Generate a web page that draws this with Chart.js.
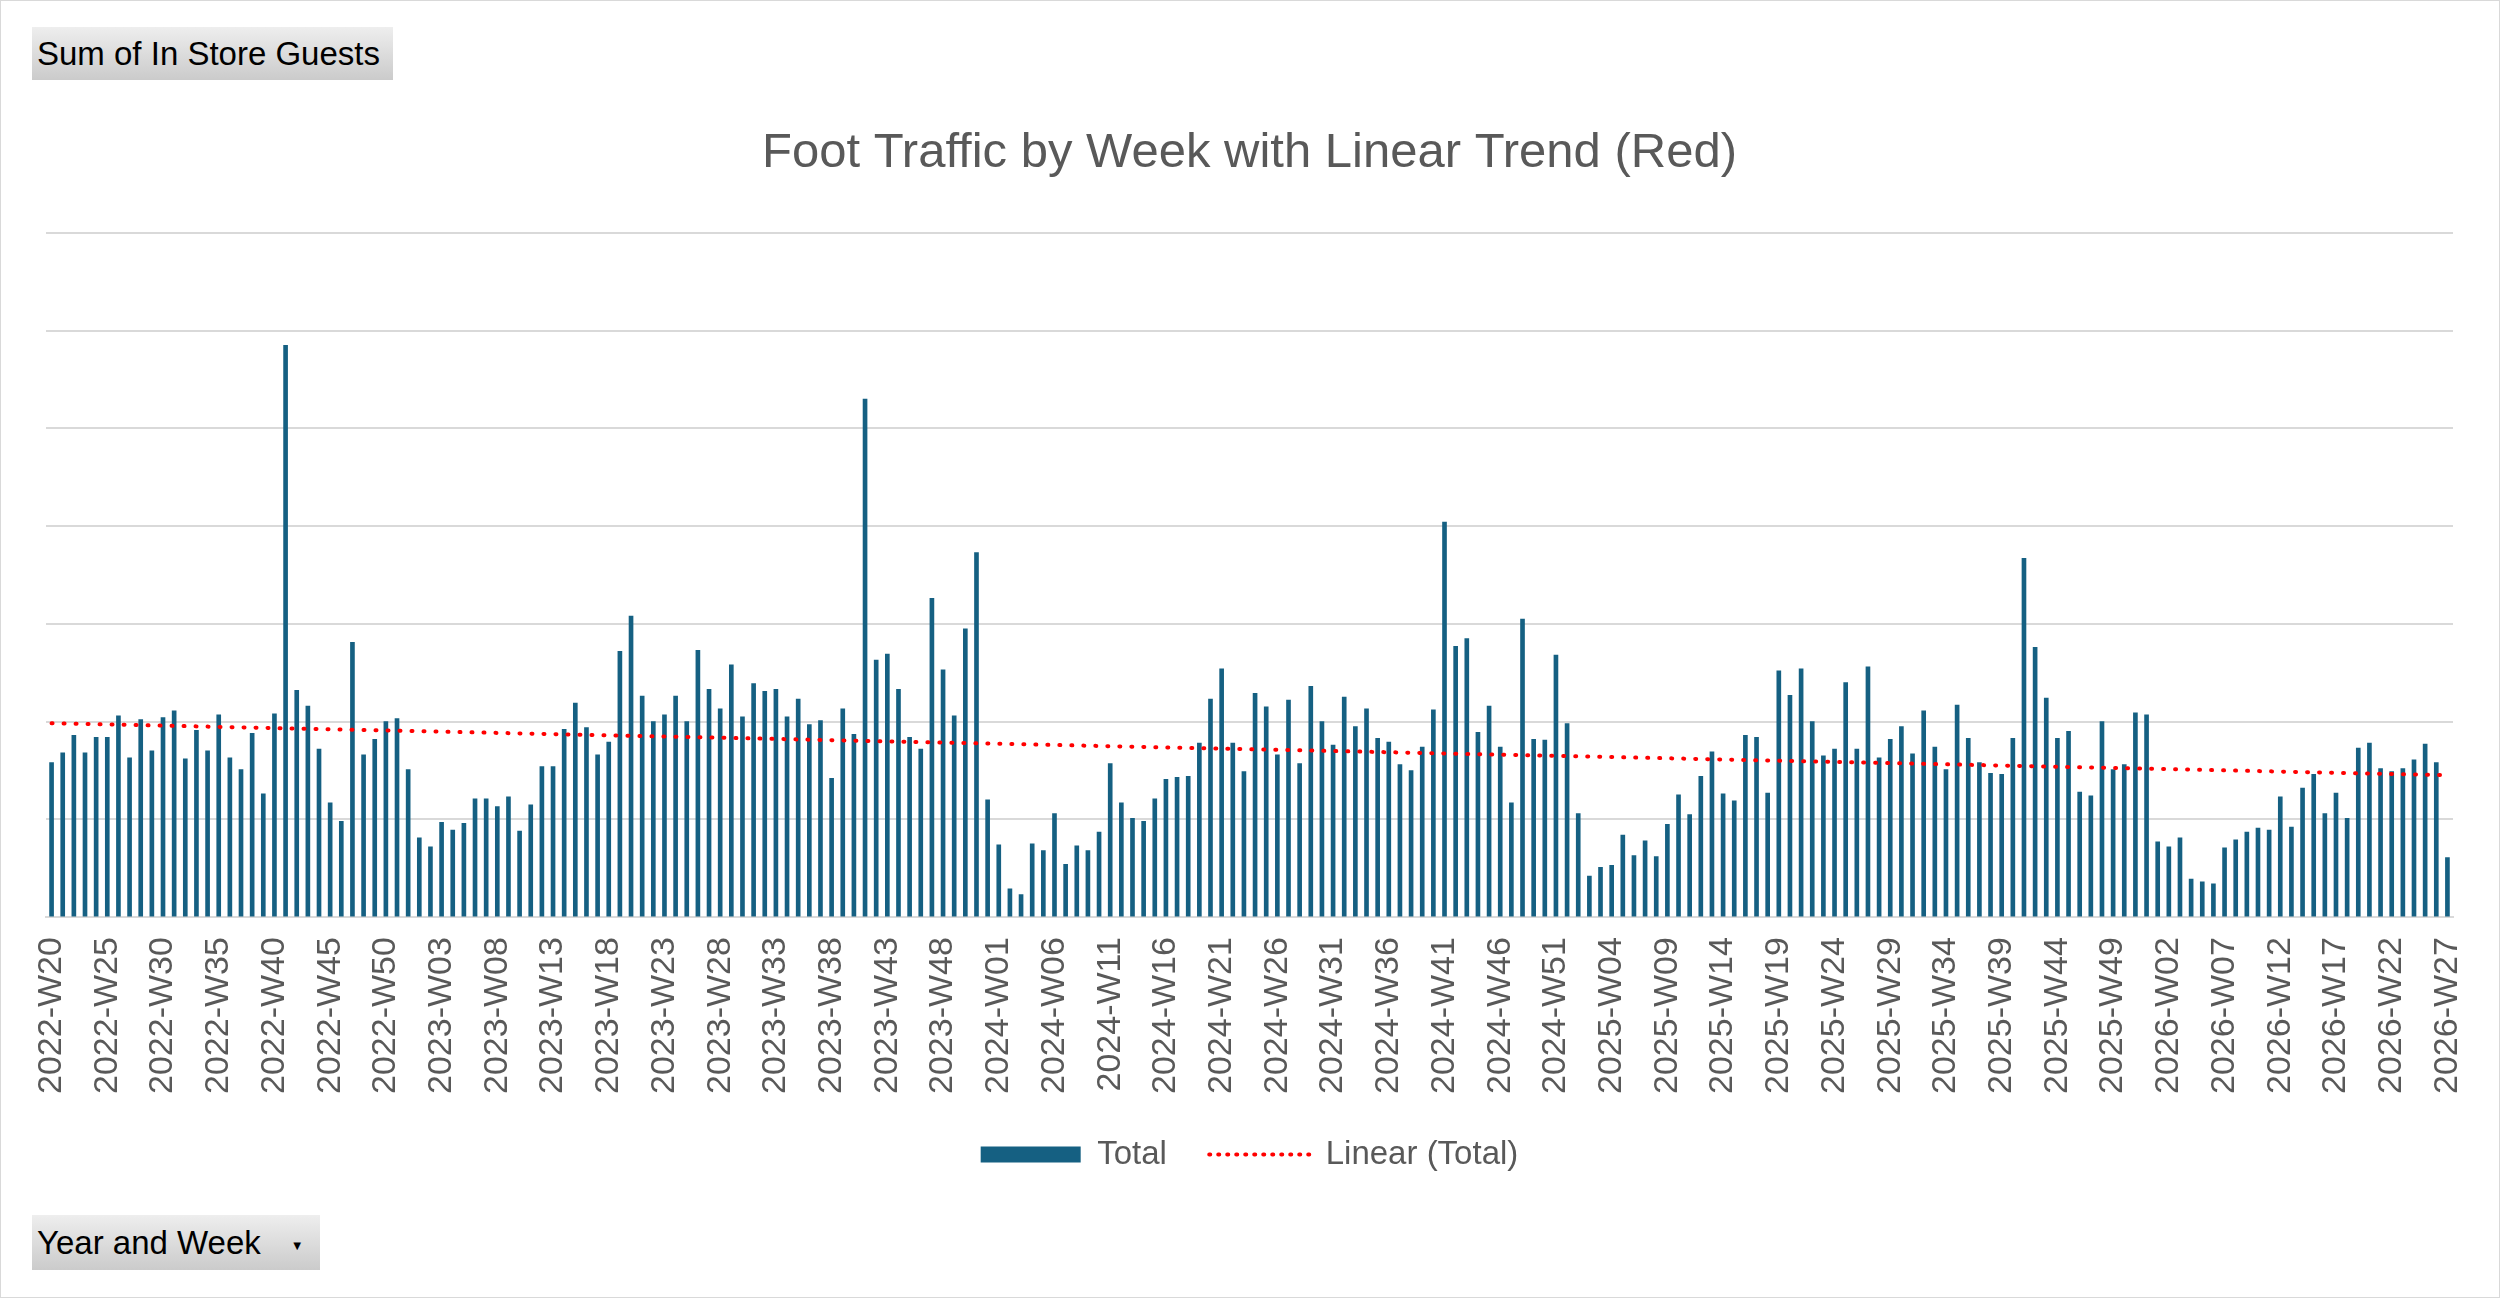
<!DOCTYPE html>
<html>
<head>
<meta charset="utf-8">
<script src="https://cdn.jsdelivr.net/npm/chart.js@4"></script>
<style>
  html, body { margin: 0; padding: 0; background: #fff; }
  body { width: 2500px; height: 1298px; position: relative; overflow: hidden; font-family: "Liberation Sans", Arial, sans-serif; }
  #frame { position: absolute; left: 0; top: 0; width: 2498px; height: 1296px; border: 1px solid #d9d9d9; pointer-events: none; }
  #wrap { position: absolute; left: 0; top: 0; }
  .pivot-btn { position: absolute; box-sizing: border-box; padding-left: 5px; background: linear-gradient(#eeeeee, #cbcbcb); color: #000; font-size: 33px; white-space: nowrap; }
  .pivot-btn .arrow { font-size: 13px; vertical-align: middle; margin-left: 30px; }
</style>
</head>
<body>
<div id="wrap"><canvas id="footTraffic" width="2500" height="1298"></canvas></div>
<div id="frame"></div>
<div class="pivot-btn" style="left:32px;top:27px;width:361px;height:53px;line-height:53px;">Sum of In Store Guests</div>
<div class="pivot-btn" style="left:32px;top:1215px;width:288px;height:55px;line-height:55px;">Year and Week<span class="arrow">&#9660;</span></div>
<script>
// ISO weeks shown: [year, first week, last week]
const yearWeeks = [[2022, 20, 52], [2023, 1, 52], [2024, 1, 52], [2025, 1, 52], [2026, 1, 27]]

// Sum of In Store Guests per week
const guests2022 = [158, 168, 186, 168, 184, 184, 206, 163, 202, 170, 204, 211, 162, 191, 170, 207, 163, 151,
    188, 126, 208, 585, 232, 216, 172, 117, 98, 281, 166, 182, 200, 203, 151]
const guests2023 = [81, 72, 97,
    89, 96, 121, 121, 113, 123, 88, 115, 154, 154, 192, 219, 194, 166, 179, 272, 308, 226,
    200, 207, 226, 200, 273, 233, 213, 258, 205, 239, 231, 233, 205, 223, 197, 201, 142, 213,
    187, 530, 263, 269, 233, 184, 172, 326, 253, 206, 295, 373, 120]
const guests2024 = [74, 29, 23, 75, 68,
    106, 54, 73, 68, 87, 157, 117, 101, 98, 121, 141, 143, 144, 178, 223, 254, 178, 149,
    229, 215, 166, 222, 157, 236, 200, 176, 225, 195, 213, 183, 179, 156, 150, 174, 212, 404, 277,
    285, 189, 216, 174, 117, 305, 182, 181, 268, 198]
const guests2025 = [106, 42, 51, 53, 84, 63, 78, 62,
    95, 125, 105, 144, 169, 126, 119, 186, 184, 127, 252, 227, 254, 200, 165, 172, 240, 172,
    256, 163, 182, 195, 167, 211, 174, 151, 217, 183, 158, 147, 146, 183, 367, 276, 224, 183,
    190, 128, 124, 200, 151, 156, 209, 207]
const guests2026 = [77, 72, 81, 39, 36, 34, 71, 79, 87, 91,
    89, 123, 92, 132, 146, 106, 127, 101, 173, 178, 152, 149, 152, 161, 177, 158, 61]

const weekLabels = []
yearWeeks.forEach(([year, first, last]) => {
    for (let w = first; w <= last; w++) {
        weekLabels.push(year + "-W" + String(w).padStart(2, "0"))
    }
})
const guests = [...guests2022, ...guests2023, ...guests2024, ...guests2025, ...guests2026]

// least squares line, like Excel's "Linear" trendline
let sx = 0, sy = 0, sxy = 0, sxx = 0
guests.forEach((v, i) => { sx += i; sy += v; sxy += i * v; sxx += i * i })
const n = guests.length
const slope = (n * sxy - sx * sy) / (n * sxx - sx * sx)
const intercept = (sy - slope * sx) / n
const trend = guests.map((v, i) => intercept + slope * i)

const grey = "#595959"
const font = "'Liberation Sans', Arial, sans-serif"

new Chart(document.getElementById("footTraffic"), {
    data: {
        labels: weekLabels,
        datasets: [
            {
                type: "bar",
                label: "Total",
                data: guests,
                backgroundColor: "#156082",
                barThickness: 4,
                order: 2
            },
            {
                type: "line",
                label: "Linear (Total)",
                data: trend,
                borderColor: "#ff0000",
                borderWidth: 4,
                borderDash: [1, 11],
                borderCapStyle: "round",
                pointRadius: 0,
                order: 1
            }
        ]
    },
    options: {
        responsive: false,
        animation: false,
        layout: { padding: { left: 46, right: 47, top: 0, bottom: 117 } },
        plugins: {
            title: {
                display: true,
                text: "Foot Traffic by Week with Linear Trend (Red)",
                color: grey,
                font: { family: font, size: 49, weight: "normal" },
                padding: { top: 124, bottom: 50 }
            },
            legend: {
                position: "bottom",
                labels: {
                    color: grey,
                    font: { family: font, size: 33 },
                    usePointStyle: true,
                    pointStyleWidth: 100,
                    boxHeight: 16,
                    padding: 24,
                    generateLabels: chart => Chart.defaults.plugins.legend.labels.generateLabels(chart)
                        .sort((a, b) => a.datasetIndex - b.datasetIndex)
                        .map(item => item.datasetIndex === 0
                            ? { ...item, pointStyle: "rect", text: item.text + "\u00a0\u00a0" }
                            : { ...item, pointStyle: "line", strokeStyle: "#ff0000", lineWidth: 4, lineDash: [1, 8], lineCap: "round" })
                }
            },
            tooltip: { enabled: false }
        },
        scales: {
            x: {
                grid: { display: false, drawTicks: false },
                border: { color: "#d9d9d9", width: 2 },
                afterFit: scale => { scale.paddingLeft = 0; scale.paddingRight = 0 },
                ticks: {
                    autoSkip: false,
                    minRotation: 90,
                    maxRotation: 90,
                    padding: 20,
                    color: grey,
                    font: { family: font, size: 34 },
                    callback: (v, i) => i % 5 === 0 ? weekLabels[i] : ""
                }
            },
            y: {
                min: 0,
                max: 700,
                ticks: { display: false, stepSize: 100 },
                grid: { color: "#d9d9d9", lineWidth: 2, drawTicks: false },
                border: { display: false }
            }
        }
    }
})
</script>
</body>
</html>
